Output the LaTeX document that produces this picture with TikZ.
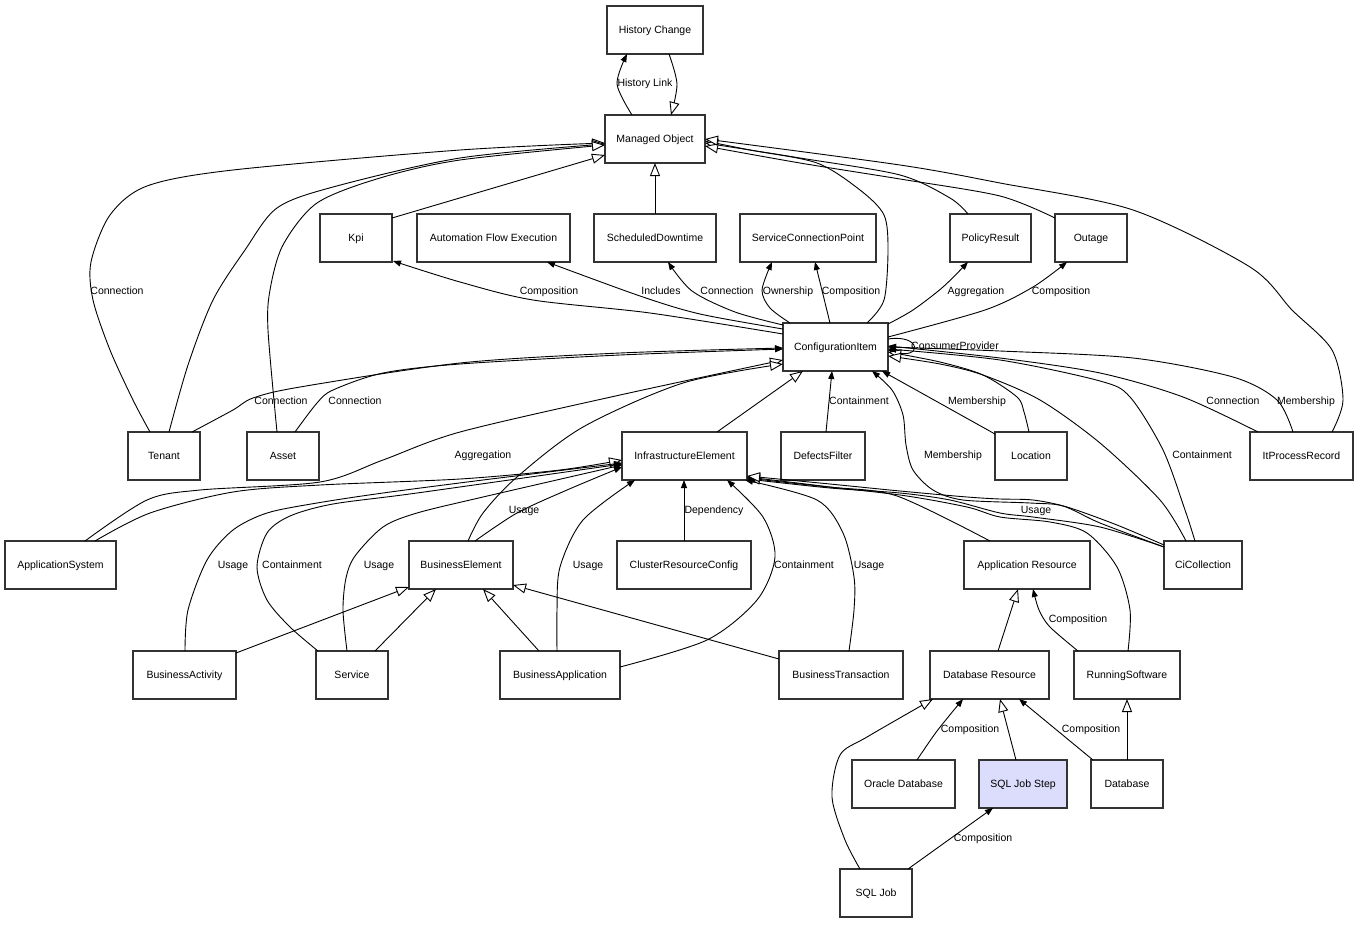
\documentclass[tikz,border=0pt]{standalone}
\usepackage{fontspec}
\setmainfont{Liberation Sans}
\usetikzlibrary{arrows.meta}
\definecolor{lav}{HTML}{DCDCFC}
\begin{document}
\begin{tikzpicture}[x=1pt,y=-1pt, font={\fontsize{10.5}{12}\selectfont},
 box/.style={draw=black!80, line width=1.1pt, fill=white, minimum height=48pt, inner sep=0pt, outer sep=0pt, text height=9pt, text depth=1.5pt},
 assoc/.style={line width=0.9pt, -{Triangle[length=8pt,width=6pt]}},
 gen/.style={line width=0.9pt, -{Triangle[length=13pt,width=10pt,fill=white]}},
 lbl/.style={inner sep=0pt, text height=9pt, text depth=1.5pt}]
\fill[white] (0,0) rectangle (1359,924);
\useasboundingbox (0,0) rectangle (1359,924);

% nodes
\node[box, minimum width=96pt] (hc) at (655,30) {History Change};
\node[box, minimum width=100pt] (mo) at (655,139) {Managed Object};
\node[box, minimum width=72pt] (kpi) at (356,238) {Kpi};
\node[box, minimum width=153pt] (afe) at (493.5,238) {Automation Flow Execution};
\node[box, minimum width=122pt] (sd) at (655,238) {ScheduledDowntime};
\node[box, minimum width=136pt] (scp) at (808,238) {ServiceConnectionPoint};
\node[box, minimum width=81pt] (pr) at (990.5,238) {PolicyResult};
\node[box, minimum width=72pt] (outage) at (1091,238) {Outage};
\node[box, minimum width=105pt] (ci) at (835.5,347) {ConfigurationItem};
\node[box, minimum width=72pt] (tenant) at (164,456) {Tenant};
\node[box, minimum width=72pt] (asset) at (283,456) {Asset};
\node[box, minimum width=125pt] (ie) at (684.5,456) {InfrastructureElement};
\node[box, minimum width=84pt] (df) at (823,456) {DefectsFilter};
\node[box, minimum width=72pt] (loc) at (1031,456) {Location};
\node[box, minimum width=103pt] (itpr) at (1301.5,456) {ItProcessRecord};
\node[box, minimum width=111pt] (appsys) at (60.5,565) {ApplicationSystem};
\node[box, minimum width=104pt] (be) at (461,565) {BusinessElement};
\node[box, minimum width=134pt] (crc) at (684,565) {ClusterResourceConfig};
\node[box, minimum width=126pt] (ar) at (1027,565) {Application Resource};
\node[box, minimum width=78pt] (cic) at (1203,565) {CiCollection};
\node[box, minimum width=103pt] (bact) at (184.5,675) {BusinessActivity};
\node[box, minimum width=72pt] (svc) at (352,675) {Service};
\node[box, minimum width=120pt] (bapp) at (560,675) {BusinessApplication};
\node[box, minimum width=124pt] (bt) at (841,675) {BusinessTransaction};
\node[box, minimum width=119pt] (dr) at (989.5,675) {Database Resource};
\node[box, minimum width=106pt] (rs) at (1127,675) {RunningSoftware};
\node[box, minimum width=103pt] (od) at (903.5,784) {Oracle Database};
\node[box, minimum width=88pt, fill=lav] (sjs) at (1023,784) {SQL Job Step};
\node[box, minimum width=72pt] (db) at (1127,784) {Database};
\node[box, minimum width=72pt] (sqlj) at (876,893) {SQL Job};

% edges around Managed Object
\draw[assoc] plot[smooth] coordinates {([shift={(27,0)}]mo.north west) (617,84) ([shift={(20,48)}]hc.north west)};
\draw[gen] plot[smooth] coordinates {([shift={(62,48)}]hc.north west) (677,84) ([shift={(66,0)}]mo.north west)};
\draw[gen] (sd.north) -- (mo.south);
\draw[gen] ([shift={(72,4)}]kpi.north west) -- ([shift={(0,40)}]mo.north west);
\draw[gen] plot[smooth] coordinates {([shift={(22,0)}]tenant.north west) (133,400) (110,350) (93,300) (91,262) (110,215) (147,186) (233,170) (460,150) ([shift={(0,28)}]mo.north west)};
\draw[gen] plot[smooth] coordinates {([shift={(41,0)}]tenant.north west) (188,365) (213,300) (245,250) (277,208) (333,187) (460,158) ([shift={(0,29)}]mo.north west)};
\draw[gen] plot[smooth] coordinates {([shift={(30,0)}]asset.north west) (268,330) (270,290) (283,245) (317,203) (380,178) (460,160) ([shift={(0,30)}]mo.north west)};
\draw[gen] plot[smooth] coordinates {([shift={(84,0)}]ci.north west) (884,300) (888,250) (884,215) (860,190) (817,163) (750,150) ([shift={(100,26)}]mo.north west)};
\draw[gen] plot[smooth] coordinates {([shift={(18,0)}]pr.north west) (950,198) (900,175) (800,158) ([shift={(100,28)}]mo.north west)};
\draw[gen] plot[smooth] coordinates {([shift={(0,4)}]outage.north west) (1000,196) (900,179) (800,163) ([shift={(100,31)}]mo.north west)};
\draw[gen] plot[smooth] coordinates {([shift={(82,0)}]itpr.north west) (1343,400) (1332,350) (1292,310) (1250,267) (1133,210) (1000,183) (900,165) ([shift={(100,24)}]mo.north west)};

% edges from ConfigurationItem upward
\draw[assoc] plot[smooth] coordinates {([shift={(0,11)}]ci.north west) (650,313) (533,300) (460,282) ([shift={(73,47)}]kpi.north west)};
\draw[assoc] plot[smooth] coordinates {([shift={(0,6)}]ci.north west) (700,314) (640,296) ([shift={(130,48)}]afe.north west)};
\draw[assoc] plot[smooth] coordinates {([shift={(0,2)}]ci.north west) (735,312) (692,291) ([shift={(74,48)}]sd.north west)};
\draw[assoc] plot[smooth] coordinates {([shift={(7,0)}]ci.north west) (770,308) (762,290) ([shift={(32,48)}]scp.north west)};
\draw[assoc] ([shift={(47,0)}]ci.north west) -- ([shift={(75,48)}]scp.north west);
\draw[assoc] plot[smooth] coordinates {([shift={(105,1)}]ci.north west) (913,310) (943,287) ([shift={(18,48)}]pr.north west)};
\draw[assoc] plot[smooth] coordinates {([shift={(105,14)}]ci.north west) (985,310) (1033,287) ([shift={(12,48)}]outage.north west)};
\draw[assoc] ([shift={(105,16)}]ci.north west) .. controls (922,334) and (922,360) .. ([shift={(105,27)}]ci.north west);

% edges into ConfigurationItem
\draw[assoc] plot[smooth] coordinates {([shift={(64,0)}]tenant.north west) (233,410) (253,398) (300,387) (460,363) (620,353) ([shift={(0,25)}]ci.north west)};
\draw[assoc] plot[smooth] coordinates {([shift={(48,0)}]asset.north west) (317,403) (333,390) (383,373) (460,364) (620,355) ([shift={(0,26)}]ci.north west)};
\draw[gen] plot[smooth] coordinates {([shift={(80,0)}]appsys.north west) (147,500) (200,490) (320,482) (383,460) (460,432) (620,395) ([shift={(0,37)}]ci.north west)};
\draw[gen] plot[smooth] coordinates {([shift={(59,0)}]be.north west) (483,513) (517,477) (583,427) (683,383) ([shift={(0,41)}]ci.north west)};
\draw[gen] ([shift={(95,0)}]ie.north west) -- ([shift={(20,48)}]ci.north west);
\draw[assoc] ([shift={(45,0)}]df.north west) -- ([shift={(49,48)}]ci.north west);
\draw[assoc] ([shift={(0,2)}]loc.north west) -- ([shift={(99,48)}]ci.north west);
\draw[gen] plot[smooth] coordinates {([shift={(34,0)}]loc.north west) (1024,412) (1017,397) (983,375) (940,362) ([shift={(105,29)}]ci.north west)};
\draw[assoc] plot[smooth] coordinates {([shift={(0,6)}]cic.north west) (1100,523) (1063,506) (1030,503) (963,500) (933,490) (913,470) (906,445) (903,415) (892,390) ([shift={(89,48)}]ci.north west)};
\draw[assoc] plot[smooth] coordinates {([shift={(31,0)}]cic.north west) (1185,510) (1163,450) (1130,397) (1100,381) (1000,360) ([shift={(105,26)}]ci.north west)};
\draw[gen] plot[smooth] coordinates {([shift={(22,0)}]cic.north west) (1160,500) (1100,443) (1040,400) (983,375) (940,364) ([shift={(105,33)}]ci.north west)};
\draw[assoc] plot[smooth] coordinates {([shift={(8,0)}]itpr.north west) (1183,397) (1100,373) (1000,358) ([shift={(105,23)}]ci.north west)};
\draw[assoc] plot[smooth] coordinates {([shift={(43,0)}]itpr.north west) (1277,400) (1233,377) (1133,358) (1000,351) ([shift={(105,24)}]ci.north west)};

% edges into InfrastructureElement
\draw[gen] plot[smooth] coordinates {([shift={(90,0)}]appsys.north west) (150,513) (233,492) (320,485) (460,479) (560,470) ([shift={(0,28)}]ie.north west)};
\draw[assoc] plot[smooth] coordinates {([shift={(52,0)}]bact.north west) (188,610) (207,560) (233,530) (267,513) (317,503) (383,493) (483,480) ([shift={(0,31)}]ie.north west)};
\draw[assoc] plot[smooth] coordinates {([shift={(2,0)}]svc.north west) (290,627) (267,600) (257,567) (267,533) (290,516) (333,504) (417,493) ([shift={(0,32)}]ie.north west)};
\draw[assoc] plot[smooth] coordinates {([shift={(31,0)}]svc.north west) (343,610) (346,578) (355,556) (383,527) (417,513) (483,497) ([shift={(0,33)}]ie.north west)};
\draw[assoc] plot[smooth] coordinates {([shift={(66,0)}]be.north west) (517,513) (567,490) ([shift={(0,35)}]ie.north west)};
\draw[assoc] plot[smooth] coordinates {([shift={(57,0)}]bapp.north west) (557,610) (560,567) (583,520) ([shift={(13,48)}]ie.north west)};
\draw[assoc] (crc.north) -- (crc.north |- ie.south);
\draw[assoc] plot[smooth] coordinates {([shift={(120,16)}]bapp.north west) (707,640) (757,600) (775,557) (763,517) ([shift={(105,48)}]ie.north west)};
\draw[assoc] plot[smooth] coordinates {([shift={(70,0)}]bt.north west) (854,610) (854,577) (843,533) (817,500) ([shift={(123,48)}]ie.north west)};
\draw[gen] plot[smooth] coordinates {([shift={(26,0)}]ar.north west) (897,496) (830,487) ([shift={(125,45)}]ie.north west)};
\draw[gen] plot[smooth] coordinates {([shift={(54,0)}]rs.north west) (1130,610) (1117,567) (1087,533) (1050,522) (1000,517) (967,507) (900,495) (800,484) ([shift={(125,46)}]ie.north west)};
\draw[assoc] plot[smooth] coordinates {([shift={(0,6)}]cic.north west) (1100,527) (1033,517) (1000,513) (950,500) (900,493) (830,488) ([shift={(125,47)}]ie.north west)};
\draw[gen] plot[smooth] coordinates {([shift={(0,4)}]cic.north west) (1117,525) (1067,507) (1033,500) (1000,499) (967,497) (900,491) (830,484) ([shift={(125,44)}]ie.north west)};

% BusinessElement specialisations
\draw[gen] ([shift={(103,2)}]bact.north west) -- ([shift={(0,46)}]be.north west);
\draw[gen] ([shift={(59,0)}]svc.north west) -- ([shift={(27,48)}]be.north west);
\draw[gen] ([shift={(39,0)}]bapp.north west) -- ([shift={(74,48)}]be.north west);
\draw[gen] ([shift={(0,8)}]bt.north west) -- ([shift={(104,44)}]be.north west);

% resources
\draw[gen] ([shift={(68,0)}]dr.north west) -- ([shift={(54,48)}]ar.north west);
\draw[assoc] plot[smooth] coordinates {([shift={(4,0)}]rs.north west) (1050,627) (1039,610) ([shift={(69,48)}]ar.north west)};
\draw[gen] (db.north) -- (rs.south);
\draw[assoc] ([shift={(2,0)}]db.north west) -- ([shift={(89,48)}]dr.north west);
\draw[assoc] plot[smooth] coordinates {([shift={(65,0)}]od.north west) (937,731) ([shift={(33,48)}]dr.north west)};
\draw[gen] ([shift={(37,0)}]sjs.north west) -- ([shift={(70,48)}]dr.north west);
\draw[gen] plot[smooth] coordinates {([shift={(20,0)}]sqlj.north west) (845,840) (832,797) (840,755) (867,737) ([shift={(3,48)}]dr.north west)};
\draw[assoc] ([shift={(68,0)}]sqlj.north west) -- ([shift={(14,48)}]sjs.north west);

% labels
\node[lbl] (lHL) at (645,83) {History Link};
\node[lbl] (lC1) at (117,291) {Connection};
\node[lbl] (lCo1) at (549,291) {Composition};
\node[lbl] (lInc) at (661,291) {Includes};
\node[lbl] (lC2) at (727,291) {Connection};
\node[lbl] (lOwn) at (788,291) {Ownership};
\node[lbl] (lCo2) at (851,291) {Composition};
\node[lbl] (lAg1) at (976,291) {Aggregation};
\node[lbl] (lCo3) at (1061,291) {Composition};
\node[lbl] (lCP) at (955,346) {ConsumerProvider};
\node[lbl] (lC3) at (281,401) {Connection};
\node[lbl] (lC4) at (355,401) {Connection};
\node[lbl] (lCt1) at (859,401) {Containment};
\node[lbl] (lM1) at (977,401) {Membership};
\node[lbl] (lC5) at (1233,401) {Connection};
\node[lbl] (lM2) at (1306,401) {Membership};
\node[lbl] (lAg2) at (483,455) {Aggregation};
\node[lbl] (lM3) at (953,455) {Membership};
\node[lbl] (lCt2) at (1202,455) {Containment};
\node[lbl] (lU1) at (524,510) {Usage};
\node[lbl] (lDep) at (714,510) {Dependency};
\node[lbl] (lU2) at (1036,510) {Usage};
\node[lbl] (lU3) at (233,565) {Usage};
\node[lbl] (lCt3) at (292,565) {Containment};
\node[lbl] (lU4) at (379,565) {Usage};
\node[lbl] (lU5) at (588,565) {Usage};
\node[lbl] (lCt4) at (804,565) {Containment};
\node[lbl] (lU6) at (869,565) {Usage};
\node[lbl] (lCo4) at (1078,619) {Composition};
\node[lbl] (lCo5) at (970,729) {Composition};
\node[lbl] (lCo6) at (1091,729) {Composition};
\node[lbl] (lCo7) at (983,838) {Composition};
\end{tikzpicture}
\end{document}
